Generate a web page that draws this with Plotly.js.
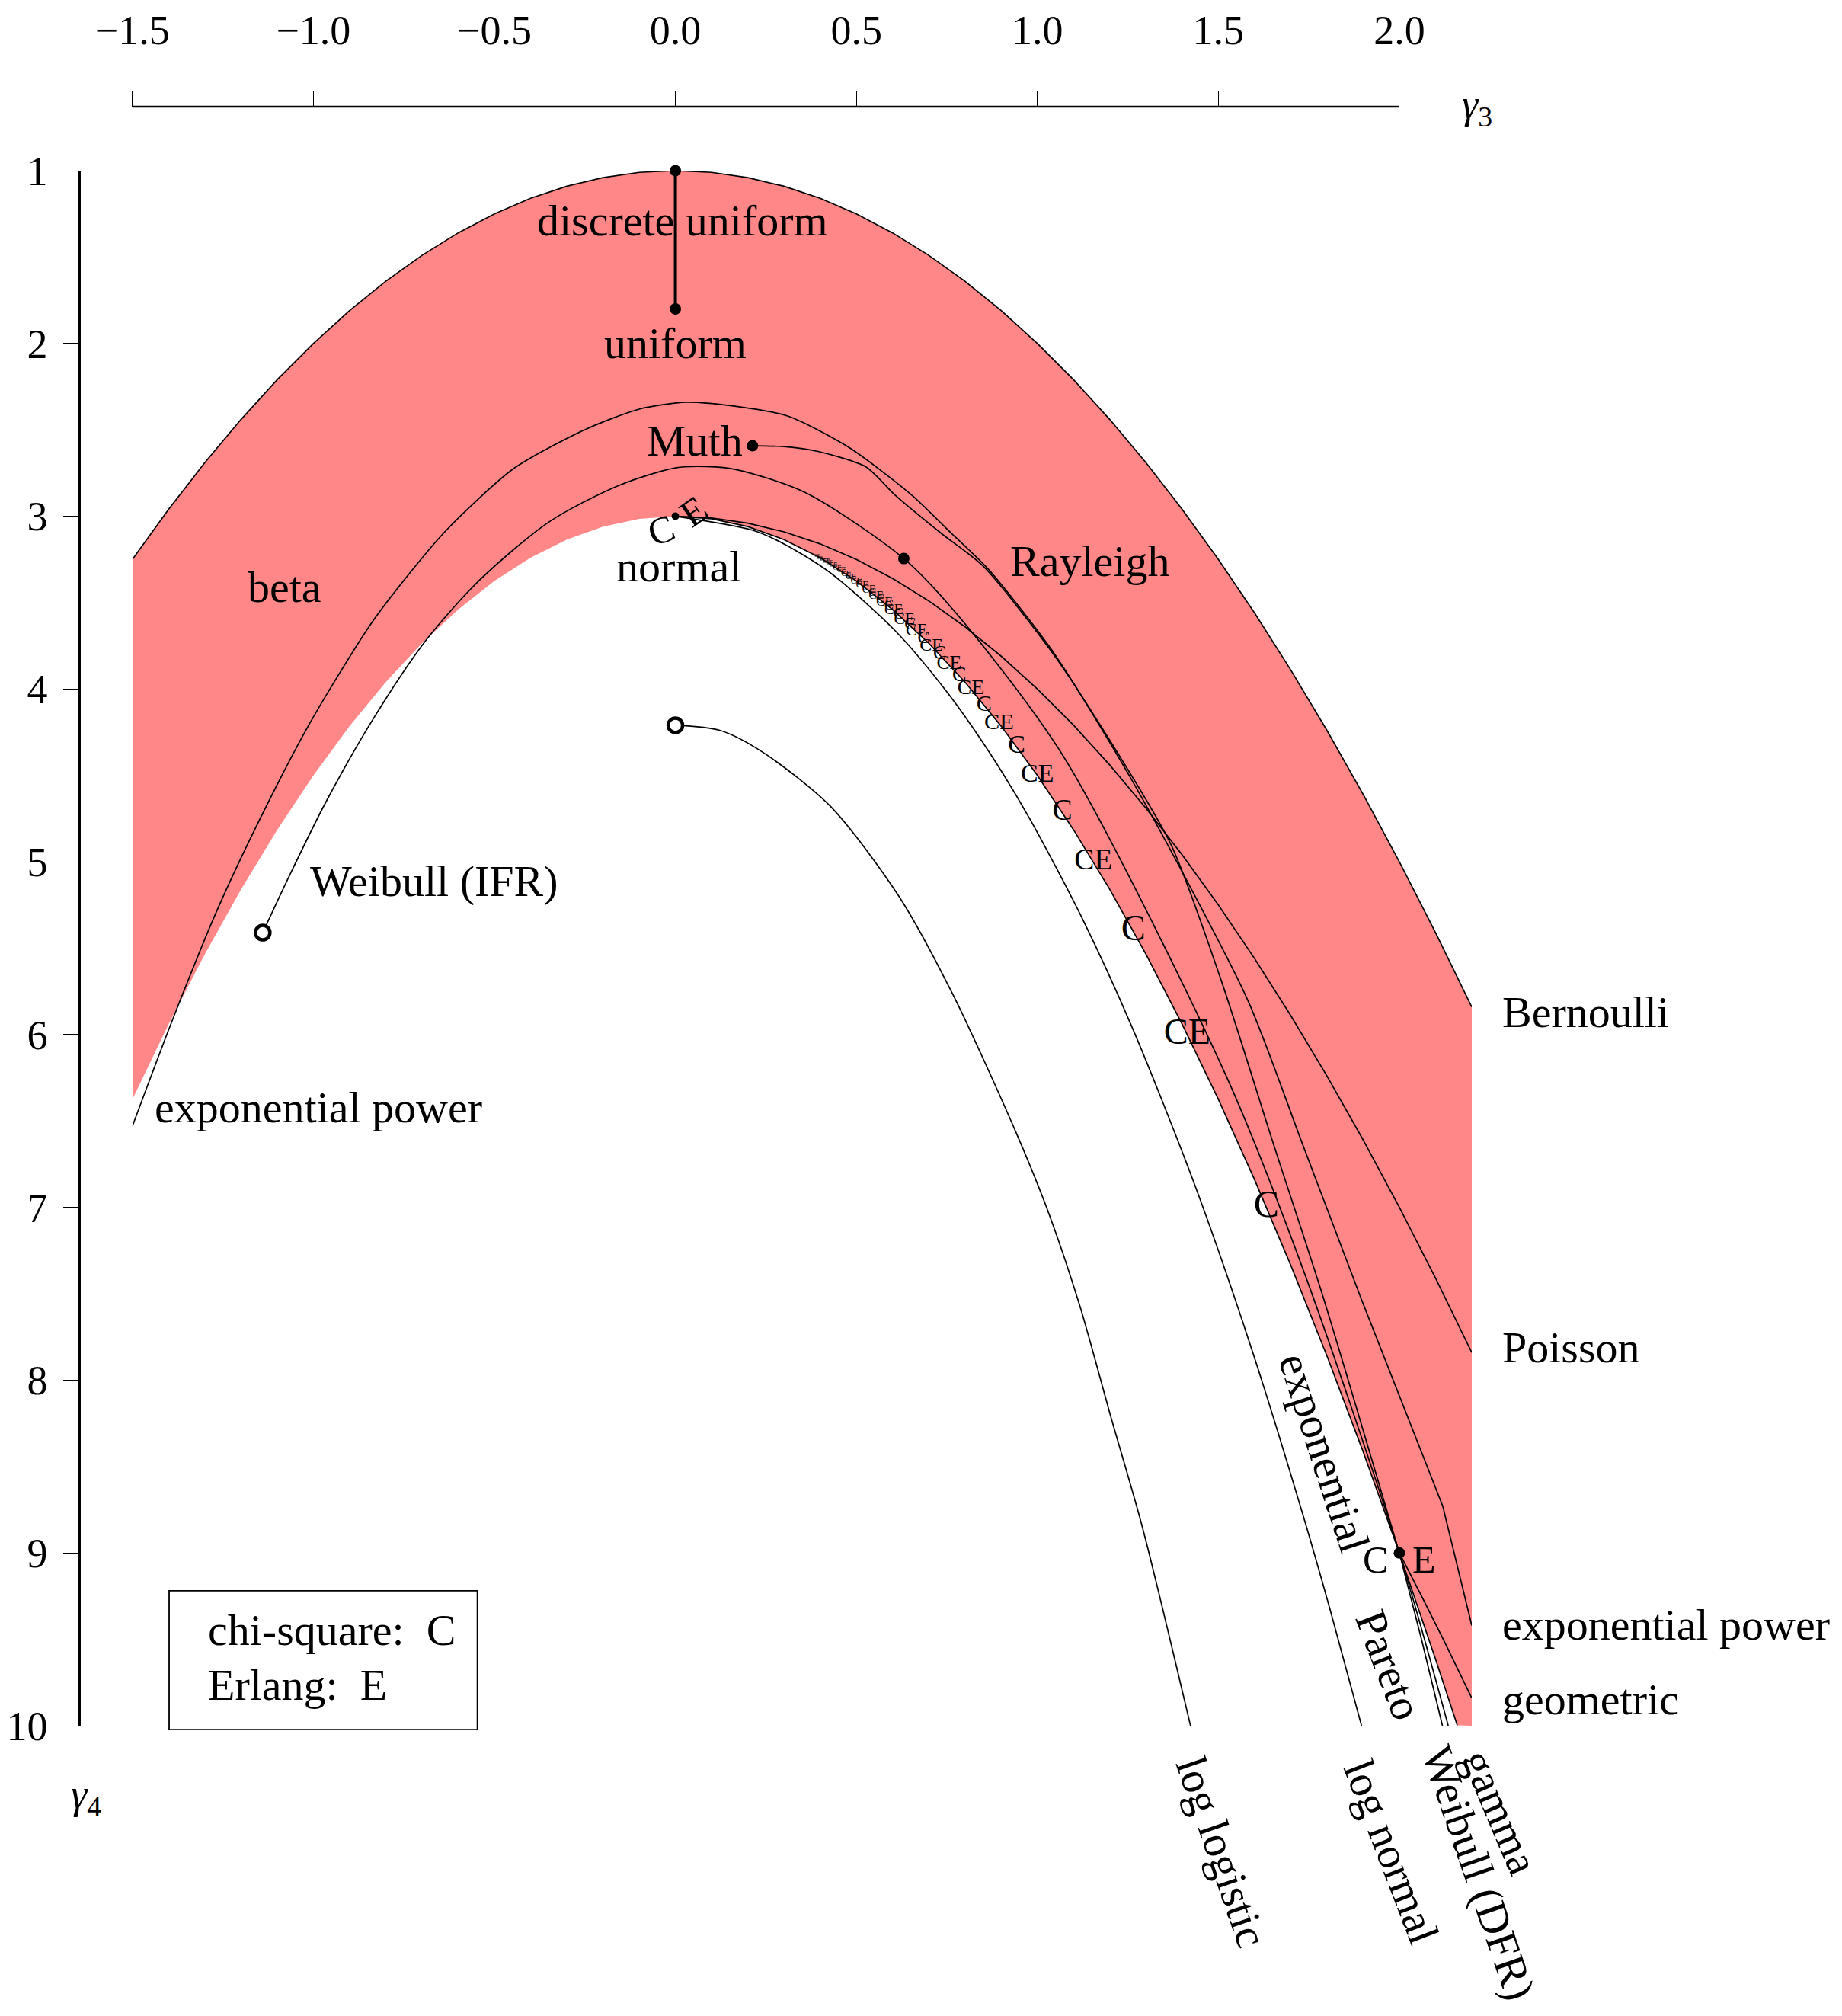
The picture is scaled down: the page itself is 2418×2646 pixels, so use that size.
<!DOCTYPE html>
<html><head><meta charset="utf-8">
<script src="https://cdn.plot.ly/plotly-3.0.1.min.js"></script>
<style>html,body{margin:0;padding:0;background:#fff}#chart{width:2418px;height:2646px}</style>
</head><body><div id="chart"></div>
<script>
// ---------------- data ----------------
const xTickVals = [-1.5, -1, -0.5, 0, 0.5, 1, 1.5, 2];
const xTickText = ['−1.5', '−1.0', '−0.5', '0.0', '0.5', '1.0', '1.5', '2.0'];
const yTickVals = [1, 2, 3, 4, 5, 6, 7, 8, 9, 10];

// upper limit of all distributions (Bernoulli line)
const topX = [-1.5,-1.4,-1.3,-1.2,-1.1,-1.0,-0.9,-0.8,-0.7,-0.6,-0.5,-0.4,-0.3,-0.2,-0.1,0,0.1,0.2,0.3,0.4,0.5,0.6,0.7,0.8,0.9,1.0,1.1,1.2,1.3,1.4,1.5,1.6,1.7,1.8,1.9,2.0,2.1,2.2];
const topY = [3.25,2.96,2.69,2.44,2.21,2.00,1.81,1.64,1.49,1.36,1.25,1.16,1.09,1.04,1.01,1,1.01,1.04,1.09,1.16,1.25,1.36,1.49,1.64,1.81,2.00,2.21,2.44,2.69,2.96,3.25,3.56,3.89,4.24,4.61,5.00,5.41,5.84];

// lower edge of beta region / gamma line
const gamX = [-1.5,-1.4,-1.3,-1.2,-1.1,-1.0,-0.9,-0.8,-0.7,-0.6,-0.5,-0.4,-0.3,-0.2,-0.1,0,0.1,0.2,0.3,0.4,0.5,0.6,0.7,0.8,0.9,1.0,1.1,1.2,1.3,1.4,1.5,1.6,1.7,1.8,1.9,2.0,2.1,2.16];
const gamY = [6.375,5.94,5.535,5.16,4.815,4.5,4.215,3.96,3.735,3.54,3.375,3.24,3.135,3.06,3.015,3,3.015,3.06,3.135,3.24,3.375,3.54,3.735,3.96,4.215,4.5,4.815,5.16,5.535,5.94,6.375,6.84,7.335,7.86,8.415,9.0,9.615,9.998];

const poissonX = [0,0.1,0.2,0.3,0.4,0.5,0.6,0.7,0.8,0.9,1.0,1.1,1.2,1.3,1.4,1.5,1.6,1.7,1.8,1.9,2.0,2.1,2.2];
const poissonY = [3,3.01,3.04,3.09,3.16,3.25,3.36,3.49,3.64,3.81,4.0,4.21,4.44,4.69,4.96,5.25,5.56,5.89,6.24,6.61,7.0,7.41,7.84];

const lognormX = [0,0.2125,0.301,0.4271,0.608,0.7495,0.8712,0.9803,1.1285,1.264,1.4311,1.5873,1.7356,1.8075,1.8955];
const lognormY = [3,3.0804,3.1615,3.326,3.6644,4.0153,4.3791,4.7561,5.347,5.9692,6.8496,7.7903,8.7939,9.3201,10.0];

const loglogX = [0,0.124,0.24,0.428,0.616,0.767,0.942,1.033,1.118,1.202,1.290,1.423];
const loglogY = [4.21,4.24,4.364,4.678,5.195,5.77,6.571,7.043,7.575,8.205,8.85,10.0];

const weibullX = [-1.14,-1.073,-0.967,-0.831,-0.686,-0.541,-0.347,-0.154,0,0.087,0.168,0.359,0.631,0.779,1.072,1.521,1.734,2.0,2.135];
const weibullY = [5.41,5.11,4.66,4.16,3.71,3.37,3.03,2.82,2.72,2.713,2.73,2.863,3.245,3.57,4.39,6.237,7.359,9.0,10.0];

const expPowX = [-1.5,-1.392,-1.266,-1.14,-1.005,-0.83,-0.637,-0.444,-0.251,-0.10,0.03,0.152,0.31,0.478,0.653,0.763,0.866,1.045,1.27,1.581,1.731,1.891,2.12,2.2];
const expPowY = [6.53,5.93,5.28,4.72,4.18,3.59,3.09,2.72,2.50,2.38,2.34,2.36,2.42,2.60,2.878,3.10,3.31,3.79,4.56,5.80,6.626,7.51,8.73,9.42];

const muthX = [0.213,0.30,0.394,0.527,0.607,0.735,0.851,1.038,1.18,1.369,1.51,1.651,1.788,2.0];
const muthY = [2.592,2.597,2.625,2.715,2.878,3.10,3.29,3.78,4.23,4.90,5.70,6.626,7.51,9.0];

const paretoX = [2.0,2.0616,2.119];
const paretoY = [9.0,9.504,10.0];

const geomX = [2.0,2.0125,2.0656,2.1213,2.2];
const geomY = [9.0,9.05,9.267,9.5,9.84];

const discUnifX = [0, 0];
const discUnifY = [1, 1.8];

const dotX = [0, 0, 0.213, 0.631, 2.0];
const dotY = [1, 1.8, 2.592, 3.245, 9.0];
const normalX = [0];
const normalY = [3];
const openX = [-1.14, 0];
const openY = [5.41, 4.21];

// chi-square (df k) / Erlang (n = k/2) points along the gamma line
const chiDf = [3,4,5,6,7,8,9,10,11,12,13,14,15,16,17,18,19,20,21,22,23,24,25,26,27,28,29,30,31,32,33,34,35,36,37,38,39,40,41,42,43,44,45,46,47,48,49,50,51,52];
const chiX = [1.633,1.414,1.265,1.155,1.069,1.0,0.943,0.894,0.8528,0.8165,0.7845,0.7559,0.7303,0.7071,0.686,0.6667,0.6489,0.6325,0.6172,0.603,0.5898,0.5774,0.5657,0.5547,0.5443,0.5345,0.5252,0.5164,0.508,0.5,0.4924,0.4851,0.4781,0.4714,0.465,0.4588,0.4529,0.4472,0.4417,0.4364,0.4313,0.4264,0.4216,0.417,0.4126,0.4082,0.4041,0.4,0.3961,0.3922];
const chiY = [7.0,6.0,5.4,5.0,4.7143,4.5,4.3333,4.2,4.0909,4.0,3.9231,3.8571,3.8,3.75,3.7059,3.6667,3.6316,3.6,3.5714,3.5455,3.5217,3.5,3.48,3.4615,3.4444,3.4286,3.4138,3.4,3.3871,3.375,3.3636,3.3529,3.3429,3.3333,3.3243,3.3158,3.3077,3.3,3.2927,3.2857,3.2791,3.2727,3.2667,3.2609,3.2553,3.25,3.2449,3.24,3.2353,3.2308];

// ---------------- layout helpers ----------------
const FONT = 'Liberation Serif, Times New Roman, serif';
const xDom0 = 0.03818, yDom1 = 0.96047;
const xp = v => xDom0 + (1 - xDom0) * (v + 1.5) / 3.7;
const yp = v => yDom1 * (10 - v) / 9;
const BLK = '#000';
const LW = 1.7;

const chiText = chiDf.map(k => (k % 2 === 0 ? 'CE' : 'C'));
const chiSize = chiDf.map(k => {
  const m = 2 * Math.floor(k / 2);
  let s = Math.min(50, 96 / Math.sqrt(m));
  if (k > 20) s *= Math.pow(20 / k, 0.8);
  return s;
});

function line(x, y, shape, w, sm) {
  return {x: x, y: y, type: 'scatter', mode: 'lines', hoverinfo: 'skip',
          line: {color: BLK, width: w || LW, shape: shape || 'spline', smoothing: sm || 0.8}, showlegend: false};
}

const gi0 = gamX.indexOf(0);
const polyX = topX.concat([2.2]).concat(gamX.slice().reverse());
const polyY = topY.concat([10]).concat(gamY.slice().reverse());
const epSplit = expPowX.indexOf(1.891);

const traces = [
  {x: polyX, y: polyY, type: 'scatter', mode: 'lines', fill: 'toself', fillcolor: '#ff8787',
   line: {width: 0, color: 'rgba(0,0,0,0)'}, hoverinfo: 'skip', showlegend: false},
  line(topX, topY, 'linear'),
  line(gamX.slice(gi0), gamY.slice(gi0), 'linear'),
  line(poissonX, poissonY, 'linear'),
  line(lognormX, lognormY, 'spline'),
  line(loglogX, loglogY, 'spline'),
  line(weibullX, weibullY, 'spline'),
  line(expPowX.slice(0, epSplit + 1), expPowY.slice(0, epSplit + 1), 'spline', LW, 0.7),
  line(expPowX.slice(epSplit), expPowY.slice(epSplit), 'linear'),
  line(muthX, muthY, 'spline', LW, 0.7),
  line(paretoX, paretoY, 'spline'),
  line(geomX, geomY, 'linear'),
  line(discUnifX, discUnifY, 'linear', 4),
  {x: dotX, y: dotY, type: 'scatter', mode: 'markers', cliponaxis: false, hoverinfo: 'skip', showlegend: false,
   marker: {color: BLK, size: 15}},
  {x: normalX, y: normalY, type: 'scatter', mode: 'markers', cliponaxis: false, hoverinfo: 'skip', showlegend: false,
   marker: {color: BLK, size: 10}},
  {x: openX, y: openY, type: 'scatter', mode: 'markers', cliponaxis: false, hoverinfo: 'skip', showlegend: false,
   marker: {color: '#fff', size: 19, line: {color: BLK, width: 4.5}}},
  {x: chiX, y: chiY, text: chiText, type: 'scatter', mode: 'text', textposition: 'middle center',
   cliponaxis: false, hoverinfo: 'skip', showlegend: false,
   textfont: {family: FONT, size: chiSize, color: BLK}}
];

const LS = 58;
function ann(text, x, y, opts) {
  return Object.assign({text: text, x: x, y: y, xref: 'x', yref: 'y', showarrow: false,
    xanchor: 'center', yanchor: 'middle', font: {family: FONT, size: LS, color: BLK}}, opts || {});
}

const annotations = [
  ann('discrete uniform', 0.02, 1.29),
  ann('uniform', 0, 2.0),
  ann('Muth', 0.19, 2.565, {xanchor: 'right'}),
  ann('Rayleigh', 1.144, 3.26),
  ann('beta', -1.08, 3.41),
  ann('normal', 0.01, 3.29),
  ann('Weibull (IFR)', -1.013, 5.11, {xanchor: 'left'}),
  ann('exponential power', -1.443, 6.42, {xanchor: 'left'}),
  ann('chi-square:\u00a0\u00a0C', -1.296, 9.448, {xanchor: 'left'}),
  ann('Erlang:\u00a0\u00a0E', -1.296, 9.765, {xanchor: 'left'}),
  ann('exponential', 1.792, 8.42, {textangle: 72}),
  ann('Pareto', 1.971, 9.65, {textangle: 69}),
  ann('C', 1.934, 9.04, {font: {family: FONT, size: 50, color: BLK}}),
  ann('E', 2.068, 9.04, {font: {family: FONT, size: 50, color: BLK}}),
  ann('C', -0.041, 3.08, {textangle: -20, font: {family: FONT, size: 50, color: BLK}}),
  ann('E', 0.05, 2.97, {textangle: -35, font: {family: FONT, size: 50, color: BLK}}),
  // outside the plotting range -> paper coordinates
  ann('Bernoulli', xp(2.281), 5.87, {xref: 'paper', xanchor: 'left'}),
  ann('Poisson', xp(2.281), 7.81, {xref: 'paper', xanchor: 'left'}),
  ann('exponential power', xp(2.281), 9.415, {xref: 'paper', xanchor: 'left'}),
  ann('geometric', xp(2.281), 9.85, {xref: 'paper', xanchor: 'left'}),
  ann('log logistic', xp(1.509), yp(10.73), {xref: 'paper', yref: 'paper', textangle: 71}),
  ann('log normal', xp(1.978), yp(10.73), {xref: 'paper', yref: 'paper', textangle: 69}),
  ann('Weibull (DFR)', xp(2.218), yp(10.85), {xref: 'paper', yref: 'paper', textangle: 71}),
  ann('gamma', xp(2.279), yp(10.50), {xref: 'paper', yref: 'paper', textangle: 67}),
  ann('<i>γ</i><sub>3</sub>', 1.0038, 1.0, {xref: 'paper', yref: 'paper', font: {family: FONT, size: 54, color: BLK}}),
  ann('<i>γ</i><sub>4</sub>', 0.0049, -0.0442, {xref: 'paper', yref: 'paper', font: {family: FONT, size: 54, color: BLK}})
];

const layout = {
  width: 2418, height: 2646,
  margin: {l: 104, r: 486, t: 140, b: 381, pad: 0},
  paper_bgcolor: '#fff', plot_bgcolor: '#fff',
  showlegend: false,
  font: {family: FONT, color: BLK},
  xaxis: {
    range: [-1.5, 2.2], domain: [xDom0, 1], anchor: 'free', position: 1, side: 'top',
    tickvals: xTickVals, ticktext: xTickText, ticks: 'outside', ticklen: 20, tickwidth: 1.3, tickcolor: BLK,
    tickfont: {family: FONT, size: 54, color: BLK}, ticklabelstandoff: 40,
    showline: false, showgrid: false, zeroline: false, fixedrange: true
  },
  yaxis: {
    range: [10, 1], domain: [0, yDom1], anchor: 'free', position: 0,
    tickvals: yTickVals, ticks: 'outside', ticklen: 20, tickwidth: 1.3, tickcolor: BLK,
    tickfont: {family: FONT, size: 54, color: BLK}, ticklabelstandoff: 10,
    showline: true, linewidth: 2.5, linecolor: BLK, showgrid: false, zeroline: false, fixedrange: true
  },
  shapes: [
    {type: 'line', xref: 'x', yref: 'paper', x0: -1.5, x1: 2.0, y0: 1, y1: 1, line: {color: BLK, width: 2.4}},
    {type: 'rect', xref: 'paper', yref: 'paper', x0: 0.06456, x1: 0.2859, y0: -0.0024, y1: 0.0834,
     line: {color: BLK, width: 1.8}, fillcolor: 'rgba(0,0,0,0)'}
  ],
  annotations: annotations
};

Plotly.newPlot('chart', traces, layout, {displayModeBar: false, responsive: false});
</script></body></html>
